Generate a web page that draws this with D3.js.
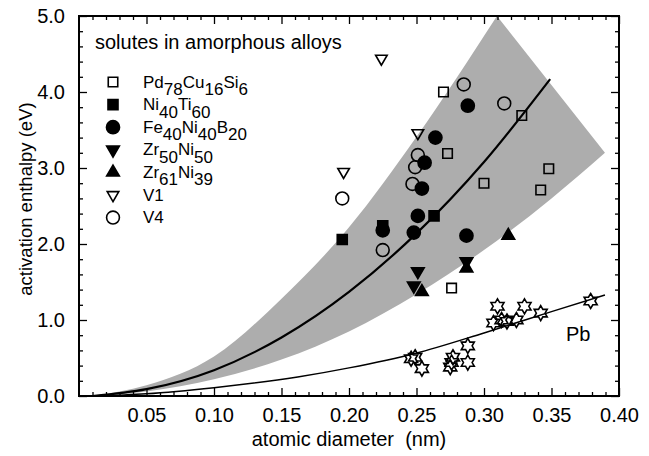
<!DOCTYPE html>
<html>
<head>
<meta charset="utf-8">
<script src="https://cdn.jsdelivr.net/npm/d3@7"></script>
<style>
  body { margin: 0; background: #fff; }
  text { font-family: "Liberation Sans", Arial, Helvetica, sans-serif; fill: #000; }
</style>
</head>
<body>
<div id="chart"></div>
<script>
// Chart data: [atomic diameter (nm), activation enthalpy (eV)]
var pdCuSi = [[0.270, 4.00], [0.328, 3.69], [0.273, 3.19], [0.348, 2.99], [0.300, 2.80], [0.342, 2.71], [0.276, 1.42]];
var niTi = [[0.195, 2.06], [0.225, 2.24], [0.263, 2.37]];
var feNiB = [[0.288, 3.82], [0.264, 3.40], [0.256, 3.07], [0.254, 2.73], [0.251, 2.37], [0.225, 2.18], [0.248, 2.15], [0.287, 2.11]];
var zrNi50 = [[0.251, 1.64], [0.248, 1.45], [0.287, 1.77]];
var zrNi39 = [[0.254, 1.37], [0.287, 1.68], [0.318, 2.11]];
var v1 = [[0.224, 4.44], [0.251, 3.46], [0.196, 2.95]];
var v4 = [[0.285, 4.10], [0.315, 3.85], [0.251, 3.17], [0.249, 3.01], [0.247, 2.79], [0.195, 2.60], [0.225, 1.92]];
var pb = [[0.249, 0.51], [0.246, 0.49], [0.254, 0.36], [0.275, 0.38], [0.277, 0.51], [0.276, 0.44],
          [0.288, 0.66], [0.288, 0.44], [0.310, 1.18], [0.330, 1.18], [0.307, 0.96], [0.313, 1.00],
          [0.317, 0.98], [0.324, 1.00], [0.342, 1.09], [0.379, 1.25]];

// fitted curves and band edges
var fitLine = [[0.01, 0.00], [0.05, 0.09], [0.10, 0.34], [0.15, 0.77], [0.20, 1.37], [0.25, 2.14], [0.30, 3.08], [0.349, 4.17]];
var bandUpper = [[0.01, 0.00], [0.05, 0.14], [0.10, 0.52], [0.15, 1.28], [0.20, 2.22], [0.25, 3.41], [0.3096, 5.00]];
var bandLower = [[0.01, 0.00], [0.05, 0.06], [0.10, 0.22], [0.15, 0.48], [0.20, 0.85], [0.25, 1.34], [0.30, 1.92], [0.35, 2.60], [0.3896, 3.20]];
var pbLine = [[0.01, 0.00], [0.05, 0.03], [0.10, 0.11], [0.162, 0.25], [0.20, 0.37], [0.249, 0.56], [0.30, 0.83], [0.35, 1.11], [0.3896, 1.33]];

var xMajor = [0.05, 0.10, 0.15, 0.20, 0.25, 0.30, 0.35, 0.40];
var yMajor = [0, 1, 2, 3, 4, 5];

var legendTitle = "solutes in amorphous alloys";
var legendLabels = [
  [["Pd", 0], ["78", 1], ["Cu", 0], ["16", 1], ["Si", 0], ["6", 1]],
  [["Ni", 0], ["40", 1], ["Ti", 0], ["60", 1]],
  [["Fe", 0], ["40", 1], ["Ni", 0], ["40", 1], ["B", 0], ["20", 1]],
  [["Zr", 0], ["50", 1], ["Ni", 0], ["50", 1]],
  [["Zr", 0], ["61", 1], ["Ni", 0], ["39", 1]],
  [["V1", 0]],
  [["V4", 0]]
];

var svgWidth = 649;
var svgHeight = 456;
var margin = { top: 16, right: 30, bottom: 60, left: 79 };

var svg = d3.select("#chart").append("svg")
  .attr("width", svgWidth)
  .attr("height", svgHeight);

var x = d3.scaleLinear().domain([0, 0.40]).range([margin.left, svgWidth - margin.right]);
var y = d3.scaleLinear().domain([0, 5]).range([svgHeight - margin.bottom, margin.top]);

var line = d3.line().x(d => x(d[0])).y(d => y(d[1])).curve(d3.curveMonotoneX);

// grey band: upper curve, straight edge to the corner, lower curve back
var upperPath = line(bandUpper);
var lowerRev = line(bandLower.slice().reverse());
svg.append("path")
  .attr("d", upperPath + lowerRev.replace(/^M/, "L") + "Z")
  .attr("fill", "#adadad")
  .attr("stroke", "none");

svg.append("path").attr("d", line(fitLine))
  .attr("fill", "none").attr("stroke", "#000").attr("stroke-width", 2.2);
svg.append("path").attr("d", line(pbLine))
  .attr("fill", "none").attr("stroke", "#000").attr("stroke-width", 1.5);

// axes, ticks pointing inward on all sides
function frameAxis(axisFn, scale, major, minor, minorLen, fmt, pos, pad) {
  var g = svg.append("g").attr("transform", pos);
  g.call(axisFn(scale).tickValues(minor).tickSize(-minorLen).tickFormat(""));
  var gm = svg.append("g").attr("transform", pos);
  gm.call(axisFn(scale).tickValues(major).tickSize(-8).tickSizeOuter(0).tickPadding(pad)
    .tickFormat(fmt ? fmt : ""));
  [g, gm].forEach(function(a) {
    a.select(".domain").remove();
    a.selectAll(".tick line").attr("stroke", "#000").attr("stroke-width", 1.3);
    a.selectAll(".tick text").attr("font-size", 20).attr("fill", "#000")
      .style("font-family", "'Liberation Sans', Arial, sans-serif");
  });
  return gm;
}
var xMinor = d3.range(1, 40).map(i => i / 100).filter(v => Math.round(v * 100) % 5 !== 0);
var yMinor = d3.range(1, 25).map(i => i / 5).filter(v => Math.round(v * 5) % 5 !== 0);

frameAxis(d3.axisBottom, x, xMajor, xMinor, 4, d3.format(".2f"), `translate(0, ${y(0)})`, 12);
frameAxis(d3.axisTop, x, xMajor, xMinor, 4, null, `translate(0, ${y(5)})`, 12);
frameAxis(d3.axisLeft, y, yMajor, yMinor, 4, d3.format(".1f"), `translate(${x(0)}, 0)`, 14);
frameAxis(d3.axisRight, y, yMajor, yMinor, 4, null, `translate(${x(0.40)}, 0)`, 14);

svg.append("rect")
  .attr("x", x(0)).attr("y", y(5))
  .attr("width", x(0.40) - x(0)).attr("height", y(0) - y(5))
  .attr("fill", "none").attr("stroke", "#000").attr("stroke-width", 2);

// marker shapes
function starPath(R) {
  var pts = [];
  for (var i = 0; i < 12; i++) {
    var r = i % 2 === 0 ? R : R / Math.sqrt(3);
    var a = -Math.PI / 2 + i * Math.PI / 6;
    pts.push([r * Math.cos(a), r * Math.sin(a)]);
  }
  return "M" + pts.map(p => p[0].toFixed(2) + "," + p[1].toFixed(2)).join("L") + "Z";
}
var shapes = [
  { data: v4, path: d3.symbol(d3.symbolCircle, 130)(), fill: "none", rot: 0 },
  { data: v1, path: d3.symbol(d3.symbolTriangle, 58)(), fill: "none", rot: 180 },
  { data: pdCuSi, path: d3.symbol(d3.symbolSquare, 90)(), fill: "none", rot: 0 },
  { data: niTi, path: d3.symbol(d3.symbolSquare, 100)(), fill: "#000", rot: 0 },
  { data: feNiB, path: d3.symbol(d3.symbolCircle, 135)(), fill: "#000", rot: 0 },
  { data: zrNi50, path: d3.symbol(d3.symbolTriangle, 70)(), fill: "#000", rot: 180 },
  { data: zrNi39, path: d3.symbol(d3.symbolTriangle, 70)(), fill: "#000", rot: 0 },
  { data: pb, path: starPath(7.5), fill: "none", rot: 0 }
];
shapes.forEach(function(s) {
  svg.append("g").selectAll("path")
    .data(s.data)
    .enter()
    .append("path")
    .attr("d", s.path)
    .attr("transform", d => `translate(${x(d[0])}, ${y(d[1])}) rotate(${s.rot})`)
    .attr("fill", s.fill)
    .attr("stroke", "#000")
    .attr("stroke-width", 1.6);
});

// legend
svg.append("text")
  .attr("x", 95).attr("y", 49)
  .attr("font-size", 20)
  .text(legendTitle);

var legendShapes = [shapes[2], shapes[3], shapes[4], shapes[5], shapes[6], shapes[1], shapes[0]];
legendLabels.forEach(function(parts, i) {
  var cy = 82 + i * 22.6;
  var s = legendShapes[i];
  svg.append("path")
    .attr("d", s.path)
    .attr("transform", `translate(113, ${cy}) rotate(${s.rot})`)
    .attr("fill", s.fill)
    .attr("stroke", "#000")
    .attr("stroke-width", 1.6);
  var t = svg.append("text")
    .attr("x", 143).attr("y", cy + 5.5)
    .attr("font-size", 17);
  var prev = 0;
  parts.forEach(function(p) {
    t.append("tspan").attr("dy", (p[1] - prev) * 7.5).text(p[0]);
    prev = p[1];
  });
});

svg.append("text")
  .attr("x", 566).attr("y", 341)
  .attr("font-size", 20)
  .text("Pb");

// axis titles
svg.append("text")
  .attr("transform", `translate(32, ${(y(0) + y(5)) / 2 - 7}) rotate(-90)`)
  .attr("text-anchor", "middle")
  .attr("font-size", 18.5)
  .text("activation enthalpy (eV)");

svg.append("text")
  .attr("x", 349).attr("y", 446)
  .attr("text-anchor", "middle")
  .attr("font-size", 20)
  .style("white-space", "pre")
  .text("atomic diameter  (nm)");
</script>
</body>
</html>
